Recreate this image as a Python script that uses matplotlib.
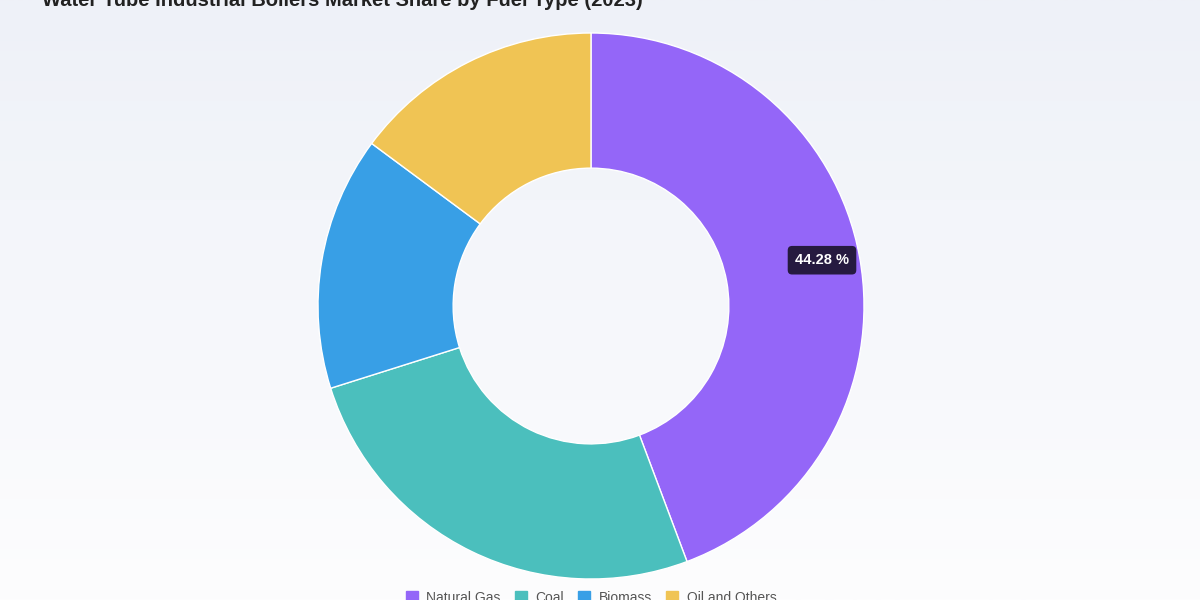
import matplotlib.pyplot as plt
import numpy as np
from matplotlib.colors import LinearSegmentedColormap

plt.rcParams['font.family'] = ['Liberation Sans', 'DejaVu Sans']

labels = ['Natural Gas', 'Coal', 'Biomass', 'Oil and Others']
shares = [44.28, 25.85, 15.02, 14.85]
colors = ['#9466f8', '#4bbfbd', '#389fe6', '#f0c454']

fig = plt.figure(figsize=(12, 6), dpi=100)

# background gradient
bg = fig.add_axes([0, 0, 1, 1])
grad = np.linspace(0, 1, 256).reshape(-1, 1)
cmap = LinearSegmentedColormap.from_list('bg', ['#fdfdfe', '#eef1f8'])
bg.imshow(grad, aspect='auto', cmap=cmap, origin='lower', extent=[0, 1, 0, 1])
bg.axis('off')

cx, cy, r = 591, 306, 273
ax = fig.add_axes([(cx - r) / 1200, (600 - cy - r) / 600, 2 * r / 1200, 2 * r / 600])
wedges, _ = ax.pie(shares, colors=colors, startangle=90, counterclock=False,
                   radius=1.0, wedgeprops=dict(width=0.495, edgecolor='white', linewidth=1))
ax.set_xlim(-1, 1)
ax.set_ylim(-1, 1)
ax.set_aspect('equal')
ax.axis('off')

# tooltip-like label on first slice
ang = np.deg2rad(90 - shares[0] / 100 * 360 / 2)
ax.text(0.86 * np.cos(ang), 0.86 * np.sin(ang) + 0.014, '%.2f %%' % shares[0],
        ha='center', va='center', color='white', fontsize=10.5, fontweight='bold',
        bbox=dict(boxstyle='round,pad=0.5,rounding_size=0.3', fc='#261a40', ec='none'))

fig.text(0.035, 1.0, 'Water Tube Industrial Boilers Market Share by Fuel Type (2023)',
         ha='left', va='center', fontsize=14.5, fontweight='bold', color='#222222')

handles = [plt.Rectangle((0, 0), 1, 1, color=c) for c in colors]
fig.legend(handles, labels, loc='center', bbox_to_anchor=(591 / 1200, 0.004), ncol=4,
           frameon=False, fontsize=10, labelcolor='#555555', handlelength=0.9,
           handleheight=0.9, columnspacing=1.0, handletextpad=0.6)

fig.savefig('out.png', dpi=100)
